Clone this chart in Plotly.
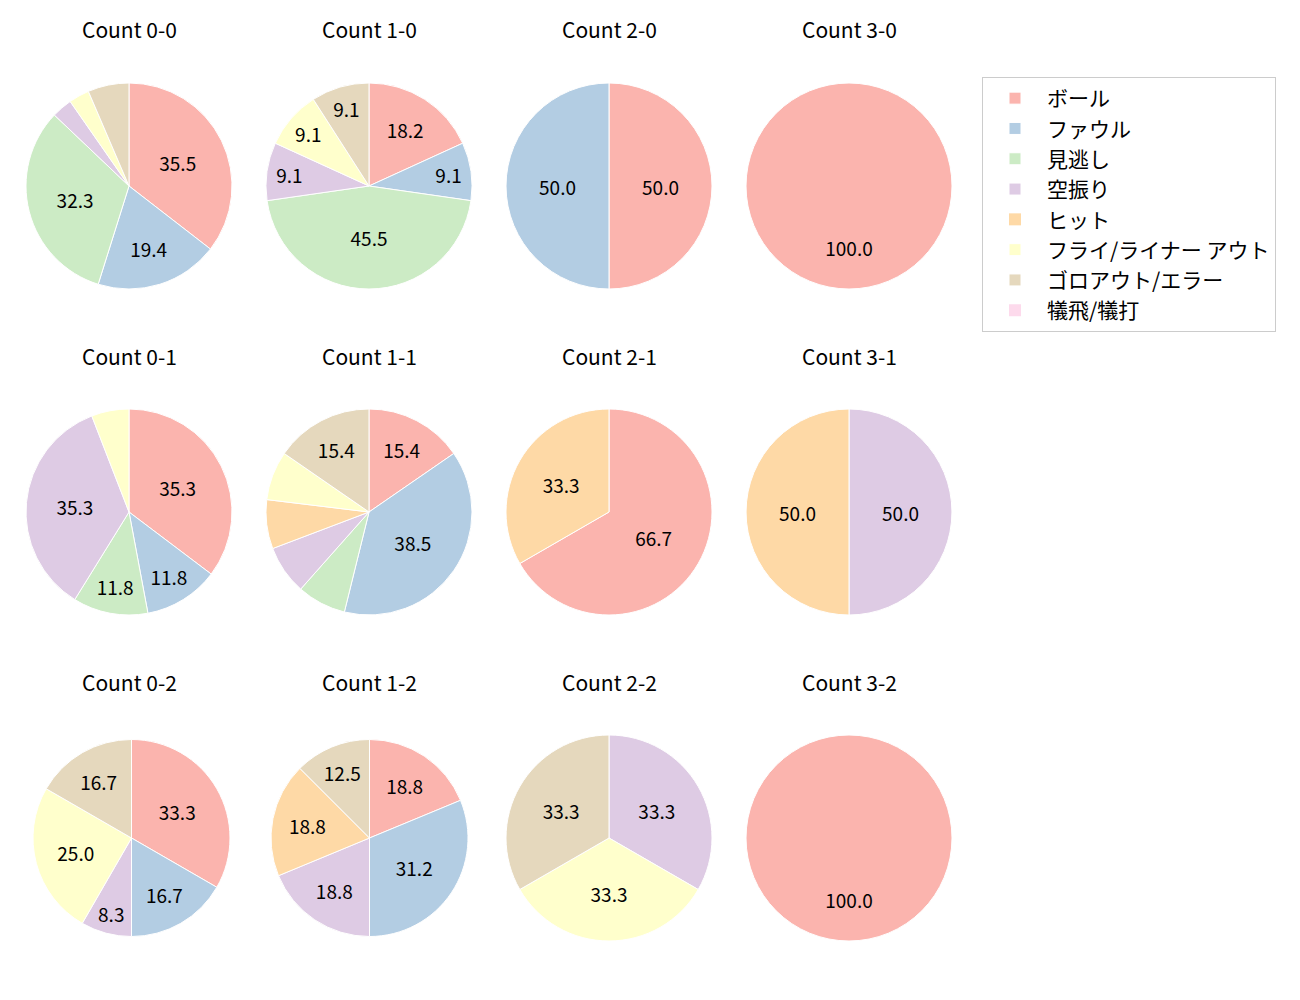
import plotly.graph_objects as go

# ---- data ----
categories = ["ボール", "ファウル", "見逃し", "空振り", "ヒット",
              "フライ/ライナー アウト", "ゴロアウト/エラー", "犠飛/犠打"]
colors = ["#fbb4ae", "#b3cde3", "#ccebc5", "#decbe4", "#fed9a6",
          "#ffffcc", "#e5d8bd", "#fddaec"]

counts = ["0-0", "1-0", "2-0", "3-0",
          "0-1", "1-1", "2-1", "3-1",
          "0-2", "1-2", "2-2", "3-2"]

values = {
    "0-0": [11, 6, 10, 1, 0, 1, 2, 0],
    "1-0": [2, 1, 5, 1, 0, 1, 1, 0],
    "2-0": [1, 1, 0, 0, 0, 0, 0, 0],
    "3-0": [1, 0, 0, 0, 0, 0, 0, 0],
    "0-1": [6, 2, 2, 6, 0, 1, 0, 0],
    "1-1": [2, 5, 1, 1, 1, 1, 2, 0],
    "2-1": [2, 0, 0, 0, 1, 0, 0, 0],
    "3-1": [0, 0, 0, 1, 1, 0, 0, 0],
    "0-2": [4, 2, 0, 1, 0, 3, 2, 0],
    "1-2": [3, 5, 0, 3, 3, 0, 2, 0],
    "2-2": [0, 0, 0, 1, 0, 1, 1, 0],
    "3-2": [1, 0, 0, 0, 0, 0, 0, 0],
}

# ---- layout (page pixels; body margin offset compensated) ----
OFF = 8
W, H = 1284, 984
col_x = [129, 369, 609, 849]
row_y = [186, 512, 838]
title_y = [29, 356, 682]
center_override = {"0-2": 131.5, "1-2": 369.5}
radius = {"0-2": 98.5, "1-2": 98.5}
default_r = 103
FONT = "Noto Sans CJK JP, Noto Sans, DejaVu Sans, sans-serif"

fig = go.Figure()
annotations = []
for idx, c in enumerate(counts):
    row, col = divmod(idx, 4)
    cx = center_override.get(c, col_x[col]) - OFF
    cy = row_y[row] - OFF
    r = radius.get(c, default_r)
    vals = values[c]
    tot = sum(vals)
    texts = []
    for v in vals:
        p = 100.0 * v / tot
        if p >= 99.95:
            # full-circle slice: matplotlib puts the label below centre
            texts.append("&#160;<br>" * 5 + f"{p:.1f}")
        else:
            texts.append(f"{p:.1f}" if p >= 8 else "")
    fig.add_trace(go.Pie(
        labels=categories,
        values=vals,
        text=texts,
        textinfo="text",
        textposition="inside",
        insidetextorientation="horizontal",
        textfont=dict(size=19, color="black", family=FONT),
        sort=False,
        direction="clockwise",
        rotation=0,
        marker=dict(colors=colors,
                    line=dict(color="white",
                              width=[1 if v > 0 else 0 for v in vals])),
        domain=dict(x=[(cx - r) / W, (cx + r) / W],
                    y=[1 - (cy + r) / H, 1 - (cy - r) / H]),
        hoverinfo="label+percent",
        showlegend=True,
    ))
    annotations.append(dict(
        x=(col_x[col] - OFF) / W, y=1 - (title_y[row] - OFF) / H,
        xref="paper", yref="paper",
        text=f"Count {c}", showarrow=False, xanchor="center", yanchor="middle",
        font=dict(size=21, color="black", family=FONT)))

fig.update_layout(
    width=W, height=H,
    margin=dict(l=0, r=0, t=0, b=0),
    paper_bgcolor="white", plot_bgcolor="white",
    annotations=annotations,
    uniformtext=dict(minsize=10, mode="show"),
    legend=dict(
        x=(982 - OFF) / W, y=1 - (77 - OFF) / H, xanchor="left", yanchor="top",
        bordercolor="#cccccc", borderwidth=1, bgcolor="white",
        font=dict(size=21, color="black", family=FONT),
        traceorder="normal",
        itemwidth=54,
    ),
)

fig.write_html("out.html")
